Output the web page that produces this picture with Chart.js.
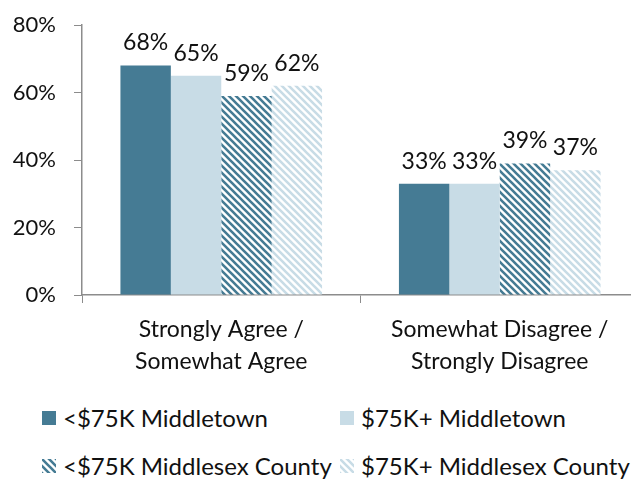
<!DOCTYPE html>
<html><head><meta charset="utf-8">
<script src="https://cdn.jsdelivr.net/npm/chart.js@4/dist/chart.umd.min.js"></script>
<style>
html,body{margin:0;padding:0;background:#fff;width:631px;height:479px;overflow:hidden;font-family:Lato,"Open Sans",sans-serif;}
#wrap{position:absolute;left:0;top:0;width:639px;height:395px;}
#legend{position:absolute;left:0;top:395px;width:631px;height:84px;}
.li{position:absolute;display:flex;align-items:center;font-size:24px;color:#111;white-space:nowrap;line-height:30px;}
.sw{width:14px;height:14px;margin-right:7px;}
</style></head>
<body>
<div id="wrap"><canvas id="c"></canvas></div>
<div id="legend"></div>
<script>
const categories = [["Strongly Agree /","Somewhat Agree"],["Somewhat Disagree /","Strongly Disagree"]];
const seriesNames = ["<$75K Middletown","$75K+ Middletown","<$75K Middlesex County","$75K+ Middlesex County"];
const lowMiddletown = [68,33];
const highMiddletown = [65,33];
const lowCounty = [59,39];
const highCounty = [62,37];
const yTicks = [0,20,40,60,80];

const FONT = "Lato, 'Open Sans', sans-serif";
const DARK = "#457B94", LIGHT = "#C8DCE6";
function stripes(color){
  const s = 7;
  const cv = document.createElement("canvas");
  cv.width = s; cv.height = s;
  const g = cv.getContext("2d");
  g.fillStyle = "#fff"; g.fillRect(0,0,s,s);
  g.strokeStyle = color; g.lineWidth = 2.6;
  g.beginPath();
  for(let k=-1;k<=1;k++){ g.moveTo(k*s - 1, -1); g.lineTo(k*s + s + 1, s + 1); }
  g.stroke();
  return g.createPattern(cv,"repeat");
}
const ctx = document.getElementById("c").getContext("2d");
const fills = [DARK, LIGHT, stripes(DARK), stripes(LIGHT)];
const values = [lowMiddletown, highMiddletown, lowCounty, highCounty];

const labelPlugin = {
  id:"vals",
  afterDatasetsDraw(chart){
    const c = chart.ctx;
    c.save();
    c.font = "23px " + FONT;
    c.fillStyle = "#111";
    c.textAlign = "center";
    c.textBaseline = "bottom";
    chart.data.datasets.forEach((ds,i)=>{
      chart.getDatasetMeta(i).data.forEach((bar,j)=>{
        c.fillText(ds.data[j]+"%", bar.x, bar.y - 11);
      });
    });
    c.restore();
  }
};

const chart = new Chart(ctx,{
  type:"bar",
  data:{
    labels: categories,
    datasets: seriesNames.map((n,i)=>({label:n,data:values[i],backgroundColor:fills[i],borderWidth:0,categoryPercentage:0.724,barPercentage:1}))
  },
  options:{
    responsive:true, maintainAspectRatio:false, animation:false,
    layout:{padding:0},
    plugins:{legend:{display:false},tooltip:{enabled:false}},
    scales:{
      x:{
        afterFit(s){ s.height = 100; },
        grid:{offset:true,drawOnChartArea:false,color:"#8c8c8c",tickLength:8,tickColor:"#8c8c8c"},
        border:{color:"#8c8c8c",width:1.5},
        ticks:{color:"#111",font:{size:23,family:FONT,lineHeight:1.42},padding:10,maxRotation:0}
      },
      y:{
        min:0,max:80,
        afterBuildTicks(s){ s.ticks = yTicks.map(v=>({value:v})); },
        afterFit(s){ s.width = 82; s.paddingTop = 25; s.paddingBottom = 0; },
        grid:{drawOnChartArea:false,color:"#8c8c8c",tickLength:8,tickColor:"#8c8c8c"},
        border:{color:"#8c8c8c",width:1.5},
        ticks:{color:"#111",font:{size:22,family:FONT},padding:18,callback:v=>v+"%"}
      }
    }
  },
  plugins:[labelPlugin]
});

// legend built from chart datasets
const lg = document.getElementById("legend");
const pos = [[42,23],[340,23],[42,71],[340,71]];
chart.data.datasets.forEach((ds,i)=>{
  const d = document.createElement("div");
  d.className="li";
  d.style.left = pos[i][0]+"px";
  d.style.top = (pos[i][1]-15)+"px";
  const sw = document.createElement("canvas");
  sw.className="sw"; sw.width=14; sw.height=14;
  const g = sw.getContext("2d");
  g.fillStyle = i<2 ? fills[i] : stripes(i===2?DARK:LIGHT);
  g.fillRect(0,0,14,14);
  d.appendChild(sw);
  const t = document.createElement("span");
  t.textContent = ds.label;
  d.appendChild(t);
  lg.appendChild(d);
});
</script>
</body></html>
